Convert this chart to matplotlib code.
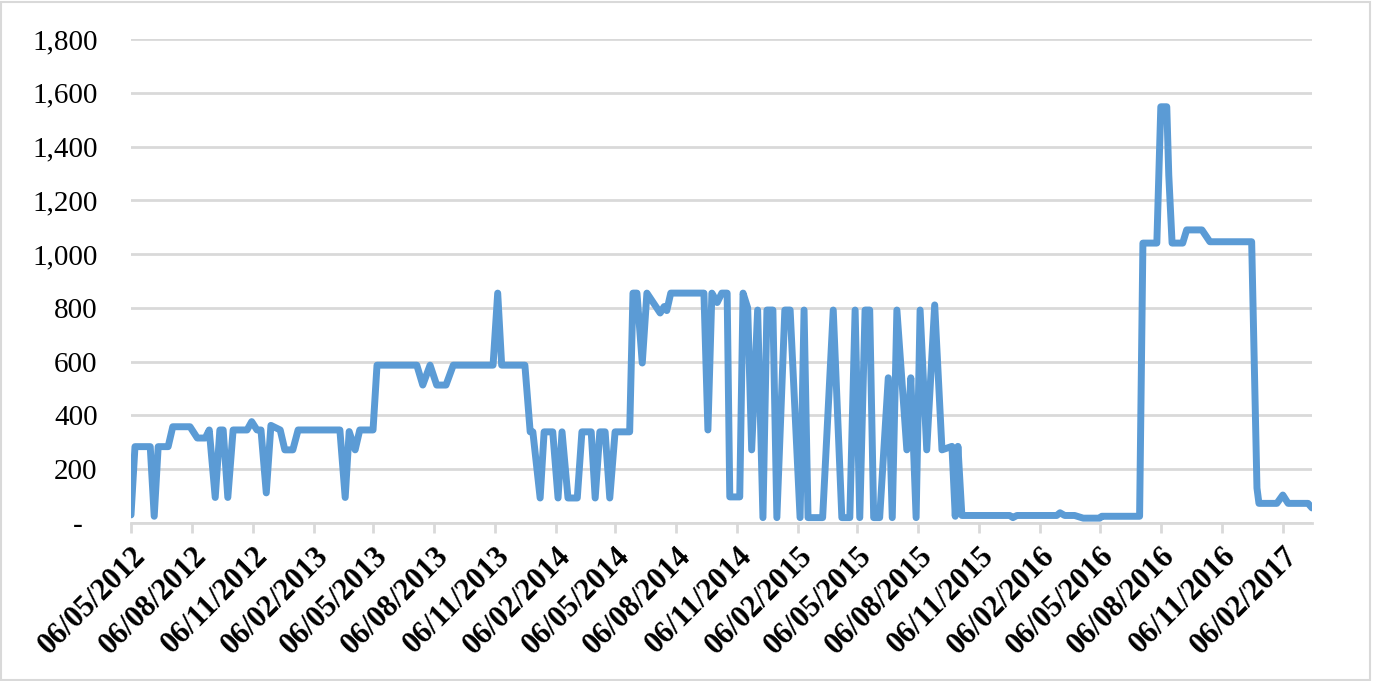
import pandas as pd
import matplotlib
matplotlib.use('Agg')
import matplotlib.pyplot as plt
import matplotlib.transforms as mtransforms
from matplotlib.ticker import FuncFormatter
from matplotlib.patches import Rectangle

# daily series at its turning points
dates = [
    '2012-05-06', '2012-05-12', '2012-06-04', '2012-06-10', '2012-06-16', '2012-07-01',
    '2012-07-08', '2012-08-03', '2012-08-14', '2012-08-26', '2012-09-01', '2012-09-10',
    '2012-09-17', '2012-09-22', '2012-09-29', '2012-10-07', '2012-10-28', '2012-11-04',
    '2012-11-12', '2012-11-18', '2012-11-26', '2012-12-03', '2012-12-17', '2012-12-24',
    '2013-01-05', '2013-01-13', '2013-03-17', '2013-03-25', '2013-03-31', '2013-04-09',
    '2013-04-16', '2013-05-06', '2013-05-12', '2013-07-11', '2013-07-20', '2013-07-31',
    '2013-08-10', '2013-08-24', '2013-09-04', '2013-11-03', '2013-11-10', '2013-11-16',
    '2013-12-21', '2013-12-29', '2014-01-02', '2014-01-13', '2014-01-19', '2014-02-01',
    '2014-02-09', '2014-02-15', '2014-02-24', '2014-03-10', '2014-03-17', '2014-03-31',
    '2014-04-06', '2014-04-13', '2014-04-21', '2014-04-28', '2014-05-06', '2014-05-28',
    '2014-06-02', '2014-06-08', '2014-06-16', '2014-06-23', '2014-07-13', '2014-07-19',
    '2014-07-23', '2014-07-29', '2014-09-17', '2014-09-23',
    '2014-09-29', '2014-10-07', '2014-10-14', '2014-10-22', '2014-10-26', '2014-11-10',
    '2014-11-15', '2014-11-22', '2014-11-28', '2014-12-07', '2014-12-15', '2014-12-21',
    '2014-12-30', '2015-01-05', '2015-01-17', '2015-01-25', '2015-02-09', '2015-02-15',
    '2015-02-21', '2015-03-15', '2015-03-31', '2015-04-13', '2015-04-25', '2015-05-03',
    '2015-05-10', '2015-05-18', '2015-05-25', '2015-05-31', '2015-06-09', '2015-06-22',
    '2015-06-28', '2015-07-05',
    '2015-07-20', '2015-07-26', '2015-08-03', '2015-08-09', '2015-08-19', '2015-08-31',
    '2015-09-11', '2015-09-26', '2015-10-01', '2015-10-05', '2015-10-11', '2015-12-22',
    '2015-12-27', '2016-01-02', '2016-03-02', '2016-03-07', '2016-03-14', '2016-03-29',
    '2016-04-11', '2016-05-06', '2016-05-09', '2016-07-05', '2016-07-10', '2016-07-31',
    '2016-08-06', '2016-08-15', '2016-08-18', '2016-08-23', '2016-09-08', '2016-09-14',
    '2016-10-07', '2016-10-19', '2016-12-21', '2016-12-29', '2017-01-01', '2017-01-28',
    '2017-02-06', '2017-02-14', '2017-03-16', '2017-03-22',
]
values = [
    30, 284, 284, 25, 284, 284,
    358, 358, 316, 316, 346, 95,
    346, 346, 95, 346, 346, 377,
    346, 346, 112, 363, 346, 272,
    272, 346, 346, 95, 340, 272,
    346, 346, 587, 587, 513, 587,
    513, 513, 587, 587, 855, 587,
    587, 339, 339, 93, 339, 339,
    93, 339, 93, 93, 339, 339,
    93, 339, 339, 93, 339, 339,
    855, 855, 595, 855, 781, 805,
    790, 855, 855, 346,
    855, 820, 855, 855, 97, 97,
    855, 800, 272, 792, 20, 792,
    792, 20, 792, 792, 20, 792,
    20, 20, 792, 20, 20, 792,
    20, 792, 792, 20, 20, 540,
    20, 792,
    272, 540, 20, 792, 272, 811,
    272, 285, 25, 285, 28, 28,
    20, 28, 28, 38, 28, 28,
    18, 18, 25, 25, 1041, 1041,
    1548, 1548, 1294, 1041, 1041, 1090,
    1090, 1046, 1046, 130, 73, 73,
    104, 73, 73, 56,
]
tick_labels = [
    '06/05/2012', '06/08/2012', '06/11/2012', '06/02/2013', '06/05/2013',
    '06/08/2013', '06/11/2013', '06/02/2014', '06/05/2014', '06/08/2014',
    '06/11/2014', '06/02/2015', '06/05/2015', '06/08/2015', '06/11/2015',
    '06/02/2016', '06/05/2016', '06/08/2016', '06/11/2016', '06/02/2017',
]
y_ticks = [0, 200, 400, 600, 800, 1000, 1200, 1400, 1600, 1800]

plt.rcParams['font.family'] = ['Liberation Serif', 'DejaVu Serif']

x = pd.to_datetime(dates)
ticks = pd.to_datetime(tick_labels, format='%d/%m/%Y')

fig = plt.figure(figsize=(13.73, 6.81), dpi=100)
ax = fig.add_axes([131 / 1373, 1 - 523 / 681, (1312 - 131) / 1373, (523 - 39) / 681])

ax.plot(x, values, color='#5B9BD5', lw=5, solid_joinstyle='round', solid_capstyle='round', zorder=3)

ax.set_xlim(pd.Timestamp('2012-05-06'), pd.Timestamp('2017-03-22'))
ax.set_ylim(0, 1800)
ax.set_yticks(y_ticks)
ax.yaxis.set_major_formatter(FuncFormatter(lambda v, p: '-  ' if v == 0 else f'{v:,.0f}'))
ax.grid(axis='y', color='#D9D9D9', lw=2)
ax.set_axisbelow(True)

ax.set_xticks(ticks)
ax.set_xticklabels(tick_labels, rotation=45, ha='right', rotation_mode='anchor',
                   fontsize=22, fontweight='bold')
shift = mtransforms.ScaledTranslation(3 / 100, 0, fig.dpi_scale_trans)
for lab in ax.get_xticklabels():
    lab.set_transform(lab.get_transform() + shift)

for s in ['left', 'top', 'right']:
    ax.spines[s].set_visible(False)
ax.spines['bottom'].set_color('#D9D9D9')
ax.spines['bottom'].set_linewidth(2)
ax.tick_params(axis='x', length=7.5, width=2, color='#D9D9D9', pad=6)
ax.tick_params(axis='y', length=0, pad=24, labelsize=21)

# chart-area border
fig.patches.append(Rectangle((0.001, 0.002), 0.997, 0.995, transform=fig.transFigure,
                             fill=False, edgecolor='#D9D9D9', lw=1.5))

fig.savefig('out.png', dpi=100)
